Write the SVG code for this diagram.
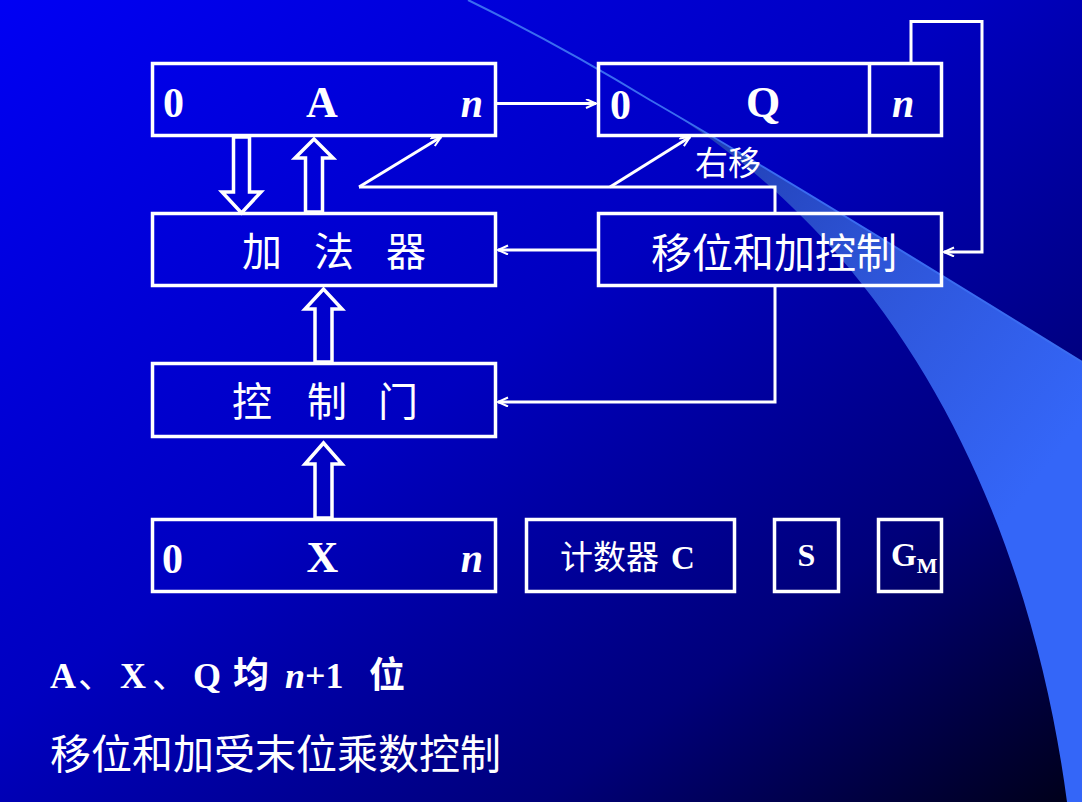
<svg xmlns="http://www.w3.org/2000/svg" width="1082" height="802" viewBox="0 0 1082 802">
  <defs>
    <linearGradient id="bg" x1="0" y1="0" x2="1" y2="1">
      <stop offset="0" stop-color="#0000f4"/>
      <stop offset="0.45" stop-color="#0000c0"/>
      <stop offset="0.75" stop-color="#00007a"/>
      <stop offset="1" stop-color="#000018"/>
    </linearGradient>
    <linearGradient id="wedge" x1="680" y1="118" x2="1082" y2="420" gradientUnits="userSpaceOnUse">
      <stop offset="0" stop-color="#1f3cb0"/>
      <stop offset="0.5" stop-color="#2e55d8"/>
      <stop offset="1" stop-color="#3466f8"/>
    </linearGradient>
    <marker id="arr" markerUnits="userSpaceOnUse" markerWidth="14" markerHeight="12" refX="11" refY="5" orient="auto">
      <path d="M1,0.5 L11,5 L1,9.5" fill="none" stroke="#fff" stroke-width="2"/>
    </marker>
    <style>
      .box{fill:none;stroke:#fff;stroke-width:3.5}
      .ln{fill:none;stroke:#fff;stroke-width:3}
      .hollow{fill:none;stroke:#fff;stroke-width:3.5;stroke-linejoin:miter}
      .lat{font-family:"Liberation Serif","Times New Roman",serif;font-weight:bold;fill:#fff}
      .it{font-style:italic}
      .cjk{font-family:"Noto Sans CJK SC","Noto Sans",sans-serif;fill:#fff}
    </style>
  </defs>

  <!-- background -->
  <rect x="0" y="0" width="1082" height="802" fill="url(#bg)"/>
  <path d="M650,100 Q780,175 1082,362 L1082,802 L1067,802 C1035,560 930,280 680,118 Z" fill="url(#wedge)"/>
  <path d="M468,0 Q560,45 650,100 Q780,175 1082,362" fill="none" stroke="#3a6cf0" stroke-width="2"/>

  <!-- connectors -->
  <g id="connectors">
    <line class="ln" x1="496" y1="103.5" x2="596" y2="103.5" marker-end="url(#arr)"/>
    <polyline class="ln" points="359,187 775,187 775,212"/>
    <line class="ln" x1="359" y1="187" x2="441" y2="137" marker-end="url(#arr)"/>
    <line class="ln" x1="610" y1="187" x2="690" y2="137" marker-end="url(#arr)"/>
    <line class="ln" x1="597" y1="250" x2="498" y2="250" marker-end="url(#arr)"/>
    <polyline class="ln" points="775,287 775,402 498,402" marker-end="url(#arr)"/>
    <polyline class="ln" points="911,62 911,21.5 982,21.5 982,252 944,252" marker-end="url(#arr)"/>
    <!-- hollow bus arrows -->
    <polygon class="hollow" points="233.5,137 249.5,137 249.5,192 261,192 241.5,213 222,192 233.5,192"/>
    <polygon class="hollow" points="305.5,212 305.5,158 295,158 314,139 333,158 322.5,158 322.5,212"/>
    <polygon class="hollow" points="315,362 315,309 305,309 323.5,289 342,309 332,309 332,362"/>
    <polygon class="hollow" points="315,518 315,464 305,464 323.5,443 342,464 332,464 332,518"/>
    <text class="cjk" x="695" y="175" font-size="33">右移</text>
  </g>

  <g id="regA">
    <rect class="box" x="152.5" y="63.5" width="343" height="72"/>
    <text class="lat" x="163" y="117" font-size="42">0</text>
    <text class="lat" x="322" y="117" font-size="44" text-anchor="middle">A</text>
    <text class="lat it" x="483" y="117" font-size="40" text-anchor="end">n</text>
  </g>

  <g id="regQ">
    <rect class="box" x="598.5" y="63.5" width="343" height="72"/>
    <line class="box" x1="869.5" y1="63.5" x2="869.5" y2="135.5"/>
    <text class="lat" x="610" y="119" font-size="42">0</text>
    <text class="lat" x="763" y="117" font-size="44" text-anchor="middle">Q</text>
    <text class="lat it" x="903" y="117" font-size="40" text-anchor="middle">n</text>
  </g>

  <g id="adder">
    <rect class="box" x="152.5" y="213.5" width="343" height="72"/>
    <text class="cjk" y="266" font-size="40"><tspan x="242">加</tspan> <tspan x="314">法</tspan> <tspan x="386">器</tspan></text>
  </g>

  <g id="shiftctrl">
    <rect class="box" x="598.5" y="213.5" width="343" height="72"/>
    <text class="cjk" x="774" y="268" font-size="41" text-anchor="middle">移位和加控制</text>
  </g>

  <g id="gate">
    <rect class="box" x="152.5" y="363.5" width="343" height="73"/>
    <text class="cjk" y="416" font-size="40"><tspan x="232">控</tspan> <tspan x="307">制</tspan> <tspan x="378">门</tspan></text>
  </g>

  <g id="regX">
    <rect class="box" x="152.5" y="519.5" width="343" height="72"/>
    <text class="lat" x="162" y="573" font-size="42">0</text>
    <text class="lat" x="322.5" y="572" font-size="44" text-anchor="middle">X</text>
    <text class="lat it" x="483" y="572" font-size="40" text-anchor="end">n</text>
  </g>

  <g id="counter">
    <rect class="box" x="526.5" y="519.5" width="208" height="72"/>
    <text y="569" font-size="33"><tspan class="cjk" x="560">计数器 </tspan><tspan class="lat" x="671">C</tspan></text>
  </g>

  <g id="regS">
    <rect class="box" x="774.5" y="519.5" width="64" height="72"/>
    <text class="lat" x="806.5" y="566" font-size="32" text-anchor="middle">S</text>
  </g>

  <g id="regGM">
    <rect class="box" x="878.5" y="519.5" width="63" height="72"/>
    <text class="lat" x="891" y="566" font-size="33">G<tspan font-size="22" dy="7">M</tspan></text>
  </g>

  <g id="notes">
    <text y="688" font-size="36"><tspan class="lat" x="50">A</tspan><tspan class="cjk" x="78">、</tspan><tspan class="lat" x="120">X</tspan><tspan class="cjk" x="152">、</tspan><tspan class="lat" x="193">Q </tspan><tspan class="cjk" x="233" font-weight="bold">均 </tspan><tspan class="lat it" x="285">n</tspan><tspan class="lat">+1 </tspan><tspan class="cjk" x="369" font-weight="bold">位</tspan></text>
    <text class="cjk" x="50" y="769" font-size="41">移位和加受末位乘数控制</text>
  </g>
</svg>
